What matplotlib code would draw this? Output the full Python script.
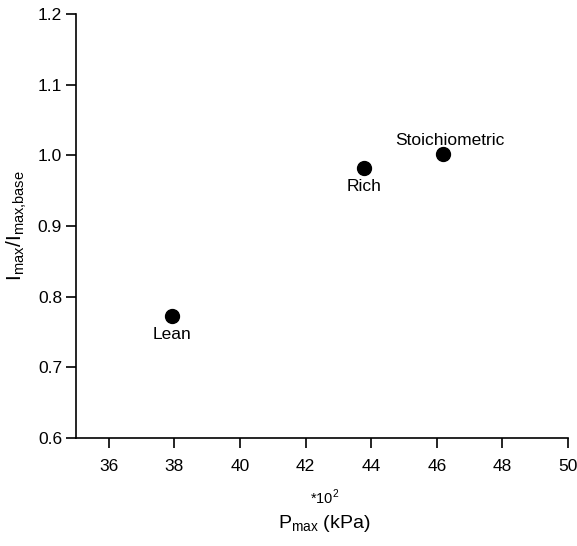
import matplotlib
matplotlib.use("Agg")
import matplotlib.pyplot as plt

conditions = ["Lean", "Rich", "Stoichiometric"]
p_max = [37.92, 43.78, 46.2]        # *10^2 kPa
i_ratio = [0.772, 0.982, 1.002]
label_offsets = [(0, -13), (0, -13), (5, 10)]  # points

plt.rcParams["font.family"] = ["Liberation Sans", "DejaVu Sans"]

fig = plt.figure(figsize=(5.77, 5.46), dpi=100)
ax = fig.add_axes([0.1317, 0.198, 0.8527, 0.776])

ax.plot(p_max, i_ratio, "o", color="black", markersize=10, linestyle="none")
for name, x, y, (dx, dy) in zip(conditions, p_max, i_ratio, label_offsets):
    ax.annotate(name, (x, y), xytext=(dx, dy), textcoords="offset points",
                ha="center", va="center", fontsize=12.5)

ax.set_xlim(35, 50)
ax.set_ylim(0.6, 1.2)
ax.set_xticks(range(36, 51, 2))
ax.set_yticks([0.6, 0.7, 0.8, 0.9, 1.0, 1.1, 1.2])
ax.set_yticklabels(["0.6", "0.7", "0.8", "0.9", "1.0", "1.1", "1.2"])

for s in ["top", "right"]:
    ax.spines[s].set_visible(False)
for s in ["left", "bottom"]:
    ax.spines[s].set_linewidth(1.2)
ax.tick_params(direction="out", length=7, width=1.2, labelsize=12.5)
ax.tick_params(axis="x", pad=8)
ax.tick_params(axis="y", pad=3)

ax.set_ylabel(r"I$_{\mathregular{max}}$/I$_{\mathregular{max{,}base}}$", fontsize=15, labelpad=6)
fig.text(325 / 577, 1 - 497 / 546, r"*10$^{\mathregular{2}}$", ha="center", va="center", fontsize=10.5)
fig.text(324 / 577, 1 - 524 / 546, r"P$_{\mathregular{max}}$ (kPa)", ha="center", va="center", fontsize=14)

fig.savefig("out.png", dpi=100)
